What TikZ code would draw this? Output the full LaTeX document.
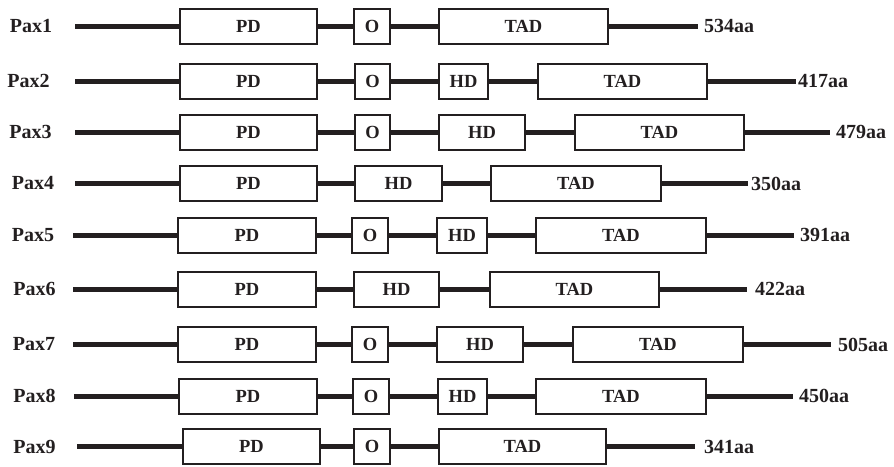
\documentclass[tikz,border=0pt]{standalone}
\usepackage{fontspec}
\setmainfont{Liberation Serif}
\definecolor{inkc}{HTML}{231F20}
\begin{document}
\begin{tikzpicture}[
        x=1pt, y=-1pt,
        every node/.style={text=inkc},
        domainbox/.style={draw=inkc, line width=2pt, fill=white, anchor=west,
            minimum height=35pt, inner sep=0pt,
            font=\fontsize{18.5}{22}\selectfont\bfseries},
        paxname/.style={font=\fontsize{20}{24}\selectfont\bfseries},
        paxlen/.style={anchor=west, inner sep=0pt, font=\fontsize{20}{24}\selectfont\bfseries},
        backbone/.style={draw=inkc, line width=5pt}
    ]
        \useasboundingbox (0,0) rectangle (894,466);

        % Pax1
        \node[paxname] (name1) at (31,26) {Pax1};
        \coordinate (start1) at (75,26);
        \node[domainbox, minimum width=137pt] (pd1) at (179,26) {PD};
        \node[domainbox, minimum width=36pt] (oct1) at (353,26) {O};
        \node[domainbox, minimum width=169pt] (tad1) at (438,26) {TAD};
        \coordinate (end1) at (698,26);
        \node[paxlen] (len1) at (704,26) {534aa};
        \draw[backbone] (start1) -- (pd1.west) (pd1.east) -- (oct1.west)
            (oct1.east) -- (tad1.west) (tad1.east) -- (end1);

        % Pax2
        \node[paxname] (name2) at (28.5,81) {Pax2};
        \coordinate (start2) at (75,81);
        \node[domainbox, minimum width=137pt] (pd2) at (179,81) {PD};
        \node[domainbox, minimum width=35pt] (oct2) at (354,81) {O};
        \node[domainbox, minimum width=49pt] (hd2) at (438,81) {HD};
        \node[domainbox, minimum width=169pt] (tad2) at (537,81) {TAD};
        \coordinate (end2) at (796,81);
        \node[paxlen] (len2) at (798,81) {417aa};
        \draw[backbone] (start2) -- (pd2.west) (pd2.east) -- (oct2.west)
            (oct2.east) -- (hd2.west) (hd2.east) -- (tad2.west) (tad2.east) -- (end2);

        % Pax3
        \node[paxname] (name3) at (30.5,132) {Pax3};
        \coordinate (start3) at (75,132);
        \node[domainbox, minimum width=137pt] (pd3) at (179,132) {PD};
        \node[domainbox, minimum width=35pt] (oct3) at (354,132) {O};
        \node[domainbox, minimum width=86pt] (hd3) at (438,132) {HD};
        \node[domainbox, minimum width=169pt] (tad3) at (574,132) {TAD};
        \coordinate (end3) at (830,132);
        \node[paxlen] (len3) at (836,132) {479aa};
        \draw[backbone] (start3) -- (pd3.west) (pd3.east) -- (oct3.west)
            (oct3.east) -- (hd3.west) (hd3.east) -- (tad3.west) (tad3.east) -- (end3);

        % Pax4
        \node[paxname] (name4) at (33,183.5) {Pax4};
        \coordinate (start4) at (75,183.5);
        \node[domainbox, minimum width=137pt] (pd4) at (179,183.5) {PD};
        \node[domainbox, minimum width=87pt] (hd4) at (354,183.5) {HD};
        \node[domainbox, minimum width=170pt] (tad4) at (490,183.5) {TAD};
        \coordinate (end4) at (748,183.5);
        \node[paxlen] (len4) at (751,183.5) {350aa};
        \draw[backbone] (start4) -- (pd4.west) (pd4.east) -- (hd4.west)
            (hd4.east) -- (tad4.west) (tad4.east) -- (end4);

        % Pax5
        \node[paxname] (name5) at (33,235) {Pax5};
        \coordinate (start5) at (73,235);
        \node[domainbox, minimum width=138pt] (pd5) at (177,235) {PD};
        \node[domainbox, minimum width=36pt] (oct5) at (351,235) {O};
        \node[domainbox, minimum width=50pt] (hd5) at (436,235) {HD};
        \node[domainbox, minimum width=170pt] (tad5) at (535,235) {TAD};
        \coordinate (end5) at (794,235);
        \node[paxlen] (len5) at (800,235) {391aa};
        \draw[backbone] (start5) -- (pd5.west) (pd5.east) -- (oct5.west)
            (oct5.east) -- (hd5.west) (hd5.east) -- (tad5.west) (tad5.east) -- (end5);

        % Pax6
        \node[paxname] (name6) at (34.5,289) {Pax6};
        \coordinate (start6) at (73,289);
        \node[domainbox, minimum width=138pt] (pd6) at (177,289) {PD};
        \node[domainbox, minimum width=85pt] (hd6) at (353,289) {HD};
        \node[domainbox, minimum width=169pt] (tad6) at (489,289) {TAD};
        \coordinate (end6) at (747,289);
        \node[paxlen] (len6) at (755,289) {422aa};
        \draw[backbone] (start6) -- (pd6.west) (pd6.east) -- (hd6.west)
            (hd6.east) -- (tad6.west) (tad6.east) -- (end6);

        % Pax7
        \node[paxname] (name7) at (34,344.5) {Pax7};
        \coordinate (start7) at (73,344.5);
        \node[domainbox, minimum width=138pt] (pd7) at (177,344.5) {PD};
        \node[domainbox, minimum width=36pt] (oct7) at (351,344.5) {O};
        \node[domainbox, minimum width=86pt] (hd7) at (436,344.5) {HD};
        \node[domainbox, minimum width=170pt] (tad7) at (572,344.5) {TAD};
        \coordinate (end7) at (831,344.5);
        \node[paxlen] (len7) at (838,344.5) {505aa};
        \draw[backbone] (start7) -- (pd7.west) (pd7.east) -- (oct7.west)
            (oct7.east) -- (hd7.west) (hd7.east) -- (tad7.west) (tad7.east) -- (end7);

        % Pax8
        \node[paxname] (name8) at (34.5,396) {Pax8};
        \coordinate (start8) at (74,396);
        \node[domainbox, minimum width=138pt] (pd8) at (178,396) {PD};
        \node[domainbox, minimum width=36pt] (oct8) at (352,396) {O};
        \node[domainbox, minimum width=49pt] (hd8) at (437,396) {HD};
        \node[domainbox, minimum width=170pt] (tad8) at (535,396) {TAD};
        \coordinate (end8) at (793,396);
        \node[paxlen] (len8) at (799,396) {450aa};
        \draw[backbone] (start8) -- (pd8.west) (pd8.east) -- (oct8.west)
            (oct8.east) -- (hd8.west) (hd8.east) -- (tad8.west) (tad8.east) -- (end8);

        % Pax9
        \node[paxname] (name9) at (34.5,446.5) {Pax9};
        \coordinate (start9) at (77,446.5);
        \node[domainbox, minimum width=137pt] (pd9) at (182,446.5) {PD};
        \node[domainbox, minimum width=36pt] (oct9) at (353,446.5) {O};
        \node[domainbox, minimum width=167pt] (tad9) at (438,446.5) {TAD};
        \coordinate (end9) at (695,446.5);
        \node[paxlen] (len9) at (704,446.5) {341aa};
        \draw[backbone] (start9) -- (pd9.west) (pd9.east) -- (oct9.west)
            (oct9.east) -- (tad9.west) (tad9.east) -- (end9);
    \end{tikzpicture}
\end{document}
